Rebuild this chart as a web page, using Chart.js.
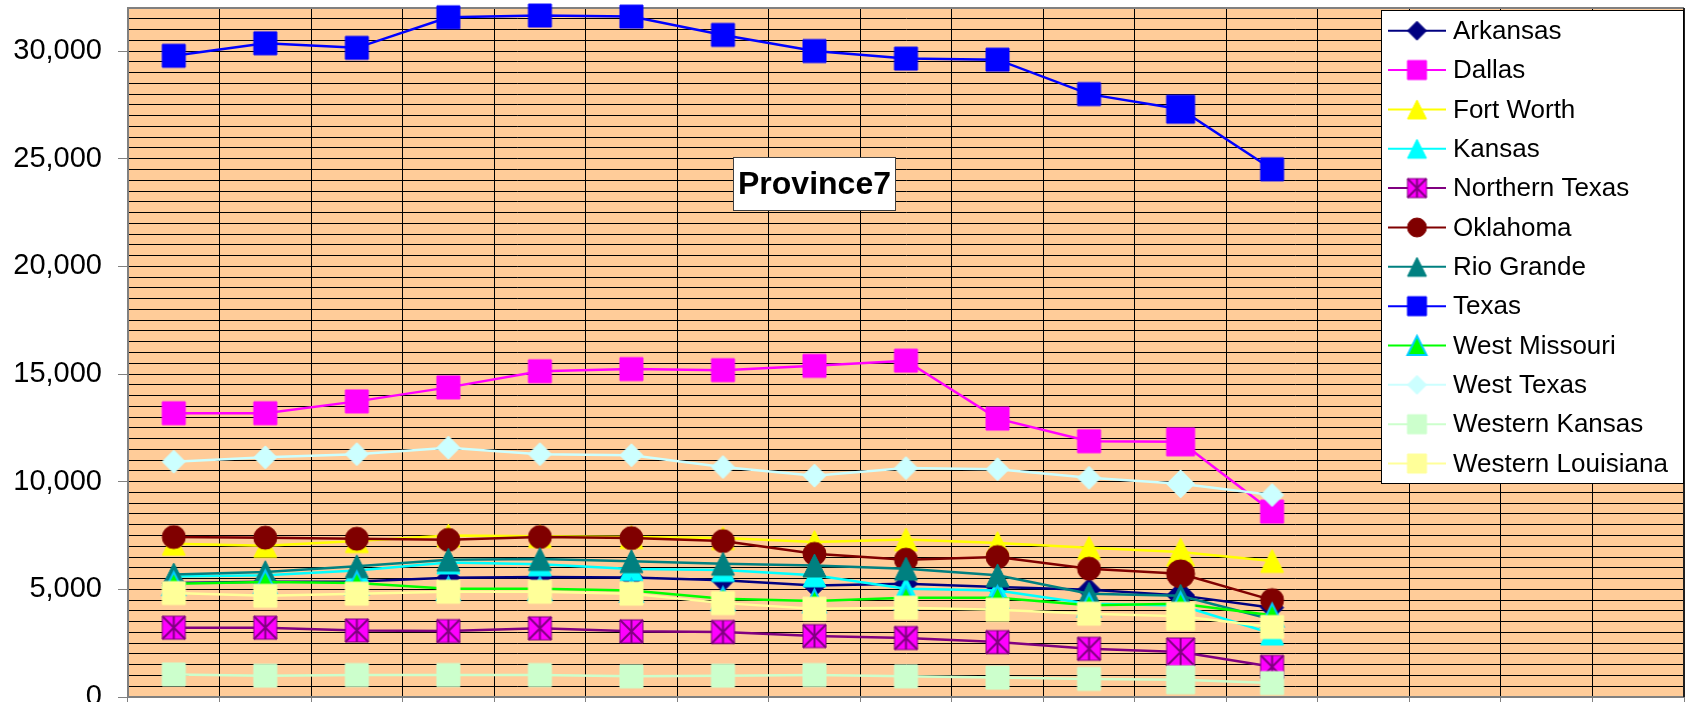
<!DOCTYPE html>
<html><head><meta charset="utf-8">
<script src="https://cdn.jsdelivr.net/npm/chart.js@4/dist/chart.umd.min.js"></script>
<style>html,body{margin:0;padding:0;background:#fff;overflow:hidden}canvas{display:block}</style>
</head><body>
<canvas id="c" width="1686" height="702"></canvas>
<script>
// ---------- data ----------
const categories = ['1','2','3','4','5','6','7','8','9','10','11','12','13','14','15','16','17'];
const chartTitle = 'Province7';
const seriesNames = ['Arkansas','Dallas','Fort Worth','Kansas','Northern Texas','Oklahoma','Rio Grande','Texas','West Missouri','West Texas','Western Kansas','Western Louisiana'];
const arkansas          = [5290, 5350, 5370, 5540, 5570, 5555, 5420, 5180, 5260, 5110, 4980, 4720, 4150];
const dallas            = [13180, 13180, 13730, 14380, 15130, 15230, 15180, 15380, 15620, 12930, 11880, 11850, 8610];
const fortWorth         = [7120, 7020, 7240, 7500, 7470, 7430, 7380, 7200, 7320, 7150, 6930, 6730, 6320];
const kansas            = [5600, 5660, 5880, 6250, 6160, 5940, 5900, 5650, 5030, 4950, 4330, 4250, 2950];
const northernTexas     = [3220, 3220, 3090, 3060, 3190, 3050, 3020, 2830, 2740, 2550, 2240, 2090, 1400];
const oklahoma          = [7430, 7400, 7350, 7300, 7430, 7380, 7240, 6650, 6380, 6500, 5960, 5720, 4500];
const rioGrande         = [5690, 5800, 6070, 6380, 6410, 6310, 6190, 6110, 5960, 5650, 4800, 4700, 3600];
const texas             = [29780, 30360, 30150, 31570, 31650, 31600, 30750, 30000, 29650, 29600, 28000, 27300, 24510];
const westMissouri      = [5260, 5340, 5290, 5030, 5030, 4950, 4560, 4460, 4610, 4610, 4260, 4330, 3800];
const westTexas         = [10930, 11130, 11280, 11580, 11280, 11230, 10680, 10280, 10630, 10580, 10180, 9900, 9380];
const westernKansas     = [1050, 990, 1020, 1020, 1020, 960, 990, 1020, 960, 900, 840, 800, 650];
const westernLouisiana  = [4830, 4700, 4800, 4890, 4890, 4800, 4360, 4100, 4150, 4050, 3870, 3750, 3250];
const seriesValues = [arkansas, dallas, fortWorth, kansas, northernTexas, oklahoma, rioGrande, texas, westMissouri, westTexas, westernKansas, westernLouisiana];
const yMax = 32000, yStep = 500, yLabelStep = 5000;

// ---------- styles ----------
const styles = [
  {line:'#000080', shape:'diamond',  fill:'#000080', stroke:'#000080', big:true},
  {line:'#FF00FF', shape:'square',   fill:'#FF00FF', stroke:'#FF00FF', big:true},
  {line:'#FFFF00', shape:'triangle', fill:'#FFFF00', stroke:'#FFFF00', big:true},
  {line:'#00FFFF', shape:'triangle', fill:'#00FFFF', stroke:'#00FFFF', big:false},
  {line:'#800080', shape:'star',     fill:'#FF00FF', stroke:'#800080', big:true},
  {line:'#800000', shape:'circle',   fill:'#800000', stroke:'#800000', big:true},
  {line:'#008080', shape:'triangle', fill:'#008080', stroke:'#008080', big:false},
  {line:'#0000FF', shape:'square',   fill:'#0000FF', stroke:'#0000FF', big:true},
  {line:'#00FF00', shape:'triangle', fill:'#00FF00', stroke:'#00CCFF', big:false},
  {line:'#CCFFFF', shape:'diamond',  fill:'#CCFFFF', stroke:'#CCFFFF', big:true},
  {line:'#CCFFCC', shape:'square',   fill:'#CCFFCC', stroke:'#CCFFCC', big:true},
  {line:'#FFFF99', shape:'square',   fill:'#FFFF99', stroke:'#FFFF99', big:true}
];

function marker(st, size) {
  const lw = st.shape === 'triangle' && st.stroke !== st.fill ? 2 : 1;
  const pad = 3;
  const dim = Math.ceil(size + 2 * pad);
  const c = document.createElement('canvas');
  c.width = dim; c.height = dim;
  const g = c.getContext('2d');
  const m = dim / 2, h = size / 2;
  g.fillStyle = st.fill; g.strokeStyle = st.stroke; g.lineWidth = lw; g.lineJoin = 'miter';
  g.beginPath();
  if (st.shape === 'square' || st.shape === 'star') g.rect(m - h, m - h, size, size);
  else if (st.shape === 'diamond') { g.moveTo(m, m - h); g.lineTo(m + h, m); g.lineTo(m, m + h); g.lineTo(m - h, m); g.closePath(); }
  else if (st.shape === 'triangle') { g.moveTo(m, m - h); g.lineTo(m + h, m + h); g.lineTo(m - h, m + h); g.closePath(); }
  else if (st.shape === 'circle') g.arc(m, m, h, 0, Math.PI * 2);
  g.fill(); g.stroke();
  if (st.shape === 'star') {
    g.lineWidth = 2; g.strokeStyle = st.stroke; g.beginPath();
    g.moveTo(m - h, m - h); g.lineTo(m + h, m + h);
    g.moveTo(m + h, m - h); g.lineTo(m - h, m + h);
    g.moveTo(m, m - h); g.lineTo(m, m + h);
    g.stroke();
  }
  return c;
}
const normalMarkers = styles.map(s => marker(s, 23));
const bigMarkers = styles.map(s => marker(s, s.big ? 28 : 23));
const legendMarkers = styles.map(s => marker(s, 19));

Chart.defaults.font.family = "'Liberation Sans', Arial, sans-serif";

const decoPlugin = {
  id: 'deco',
  beforeDraw(chart) {
    const {ctx, chartArea: a} = chart;
    ctx.save();
    ctx.fillStyle = '#FFCC99';
    ctx.fillRect(a.left, a.top, a.right - a.left, a.bottom - a.top);
    ctx.restore();
  },
  beforeDatasetsDraw(chart) {
    const {ctx, chartArea: a} = chart;
    ctx.save();
    ctx.strokeStyle = '#808080'; ctx.lineWidth = 2;
    ctx.beginPath();
    ctx.moveTo(a.left, a.top); ctx.lineTo(a.right, a.top);
    ctx.stroke();
    ctx.strokeStyle = '#202020';
    ctx.beginPath(); ctx.moveTo(a.right, a.top); ctx.lineTo(a.right, a.bottom); ctx.stroke();
    ctx.restore();
  },
  afterDraw(chart) {
    const ctx = chart.ctx;
    ctx.save();
    // title box
    ctx.fillStyle = '#fff';
    ctx.fillRect(733.5, 157, 162, 54);
    ctx.strokeStyle = '#404040'; ctx.lineWidth = 1;
    ctx.strokeRect(733.5, 157.5, 162, 53);
    ctx.fillStyle = '#000';
    ctx.font = "bold 32px 'Liberation Sans', Arial, sans-serif";
    ctx.textAlign = 'center'; ctx.textBaseline = 'middle';
    ctx.fillText(chartTitle, 814.5, 185);
    // legend
    ctx.fillStyle = '#fff';
    ctx.fillRect(1381, 10, 302, 473);
    ctx.strokeStyle = '#000'; ctx.lineWidth = 1;
    ctx.strokeRect(1381.5, 10.5, 302, 473);
    ctx.font = "26px 'Liberation Sans', Arial, sans-serif";
    ctx.textAlign = 'left'; ctx.textBaseline = 'middle';
    chart.data.datasets.forEach((ds, i) => {
      const y = 30.7 + i * 39.35;
      ctx.strokeStyle = styles[i].line; ctx.lineWidth = 2;
      ctx.beginPath(); ctx.moveTo(1388, y); ctx.lineTo(1446, y); ctx.stroke();
      const mk = legendMarkers[i];
      ctx.drawImage(mk, 1417 - mk.width / 2, y - mk.height / 2);
      ctx.fillStyle = '#000';
      ctx.fillText(ds.label, 1453, y + 1);
    });
    ctx.restore();
  }
};

new Chart(document.getElementById('c'), {
  type: 'line',
  data: {
    labels: categories,
    datasets: seriesNames.map((name, i) => ({
      label: name,
      data: seriesValues[i],
      borderColor: styles[i].line,
      backgroundColor: styles[i].fill,
      borderWidth: 2.5,
      pointStyle: seriesValues[i].map((_, j) => j === 11 ? bigMarkers[i] : normalMarkers[i]),
      pointRadius: 12,
      pointHoverRadius: 12,
      tension: 0,
      fill: false,
      clip: false,
      order: seriesNames.length - i
    }))
  },
  options: {
    responsive: false,
    animation: false,
    devicePixelRatio: 1,
    layout: {autoPadding: false, padding: {top: 8, right: 2, left: 0, bottom: 0}},
    plugins: {legend: {display: false}, tooltip: {enabled: false}, title: {display: false}},
    events: [],
    scales: {
      x: {
        type: 'category',
        offset: true,
        ticks: {display: false},
        grid: {offset: true, color: '#000', lineWidth: 1, tickLength: 5, tickColor: '#808080'},
        border: {color: '#808080', width: 2},
        afterFit(s) { s.height = 5; s.paddingLeft = 0; s.paddingRight = 0; }
      },
      y: {
        min: 0, max: yMax,
        ticks: {
          stepSize: yStep, autoSkip: false, padding: 16, color: '#000',
          font: {size: 29},
          callback: v => (v % yLabelStep === 0 ? v.toLocaleString('en-US') : '')
        },
        grid: {
          color: '#000', lineWidth: 1, tickLength: 10,
          tickColor: c => (c.tick && c.tick.value % yLabelStep === 0) ? '#808080' : 'rgba(0,0,0,0)'
        },
        border: {color: '#808080', width: 2},
        afterFit(s) { s.width = 128; s.paddingTop = 0; s.paddingBottom = 0; }
      }
    }
  },
  plugins: [decoPlugin]
});
</script>
</body></html>
